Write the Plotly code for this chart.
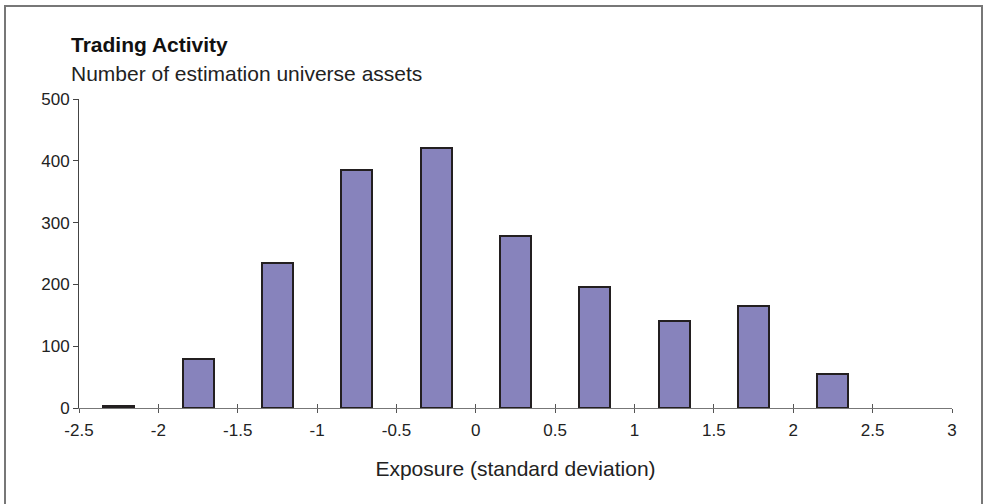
import plotly.graph_objects as go

exposure = [-2.25, -1.75, -1.25, -0.75, -0.25, 0.25, 0.75, 1.25, 1.75, 2.25]
asset_counts = [4, 79, 234, 385, 420, 278, 195, 141, 165, 55]
x_ticks = [-2.5, -2, -1.5, -1, -0.5, 0, 0.5, 1, 1.5, 2, 2.5, 3]
x_tick_labels = ["-2.5", "-2", "-1.5", "-1", "-0.5", "0", "0.5", "1", "1.5", "2", "2.5", "3"]
y_ticks = [0, 100, 200, 300, 400, 500]

title = "Trading Activity"
subtitle = "Number of estimation universe assets"
x_title = "Exposure (standard deviation)"

W, H = 985, 504
L, R, T, B = 79, 33, 99, 96
pw, ph = W - L - R, H - T - B

def px_x(p):
    return (p - L) / pw

def px_y(p):
    return (H - B - p) / ph

FONT = "Liberation Sans, Arial, sans-serif"

fig = go.Figure()
fig.add_trace(go.Bar(
    x=exposure, y=asset_counts, width=0.195,
    marker=dict(color="#8783BC", line=dict(color="#231F20", width=2)),
    showlegend=False, hoverinfo="x+y",
))
# invisible trace on overlay axis for inside tick marks
fig.add_trace(go.Scatter(x=[exposure[0]], y=[0], xaxis="x2", mode="markers",
                         marker=dict(opacity=0), showlegend=False, hoverinfo="skip"))

fig.update_layout(
    width=W, height=H,
    margin=dict(l=L, r=R, t=T, b=B, pad=0),
    paper_bgcolor="white", plot_bgcolor="white",
    font=dict(family=FONT, color="#222222"),
    bargap=0,
    xaxis=dict(
        range=[-2.5, 3], tickmode="array", tickvals=x_ticks, ticktext=x_tick_labels,
        showgrid=False, zeroline=False, showline=True, linecolor="#777777", linewidth=1,
        ticks="outside", ticklen=4, tickcolor="#555555", tickwidth=1,
        tickfont=dict(size=17, color="#222222"), ticklabelstandoff=3,
        title=dict(text=x_title, font=dict(size=21, color="#222222"), standoff=21),
    ),
    xaxis2=dict(
        range=[-2.5, 3], overlaying="x", tickmode="array", tickvals=x_ticks,
        showticklabels=False, showgrid=False, zeroline=False, showline=False,
        ticks="inside", ticklen=4, tickcolor="#555555", tickwidth=1, side="bottom",
        anchor="y",
    ),
    yaxis=dict(
        range=[0, 500], tickmode="array", tickvals=y_ticks,
        showgrid=False, zeroline=False, showline=True, linecolor="#444444", linewidth=1,
        ticks="outside", ticklen=5, tickcolor="#444444", tickwidth=1,
        tickfont=dict(size=17, color="#222222"),
    ),
    annotations=[
        dict(text="<b>" + title + "</b>", xref="paper", yref="paper",
             x=px_x(69), y=px_y(44), xanchor="left", yanchor="middle",
             showarrow=False, font=dict(size=21, color="#111111")),
        dict(text=subtitle, xref="paper", yref="paper",
             x=px_x(69), y=px_y(74), xanchor="left", yanchor="middle",
             showarrow=False, font=dict(size=21, color="#222222")),
    ],
    shapes=[
        dict(type="rect", xref="paper", yref="paper",
             x0=px_x(5), x1=px_x(982), y0=px_y(510), y1=px_y(6),
             line=dict(color="#777777", width=2), fillcolor="rgba(0,0,0,0)", layer="below"),
    ],
)

fig.write_html("out.html", config={"displayModeBar": False},
               post_script="document.body.style.margin='0';document.body.style.overflow='hidden';")
